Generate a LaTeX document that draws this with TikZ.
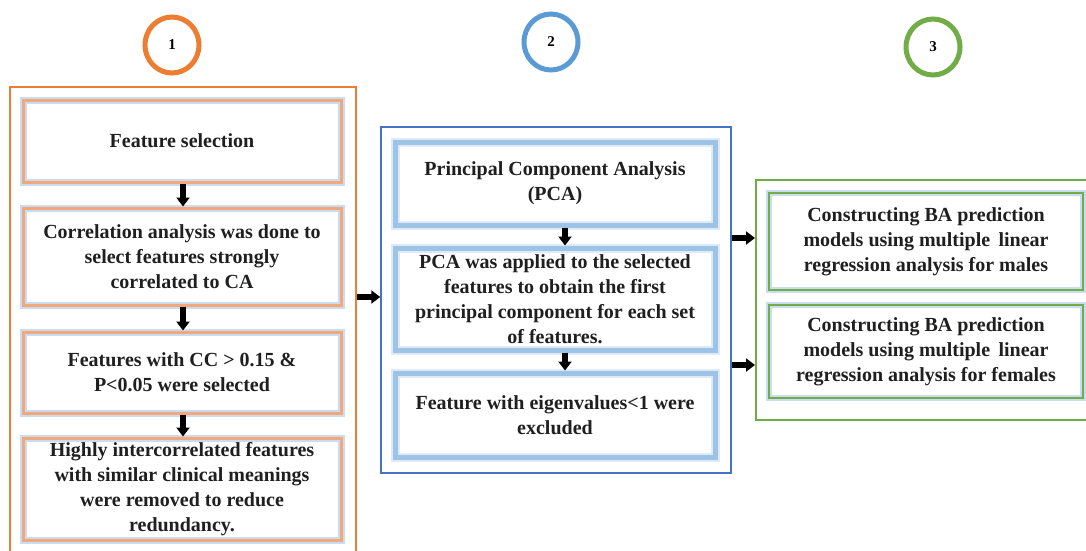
\documentclass[tikz,border=0pt]{standalone}
\usepackage{fontspec}
\setmainfont{Liberation Serif}
\usetikzlibrary{arrows.meta}
\definecolor{orng}{HTML}{ED7D31}
\definecolor{lorng}{HTML}{F4A778}
\definecolor{bl}{HTML}{5B9BD5}
\definecolor{dbl}{HTML}{4472C4}
\definecolor{lbl}{HTML}{9DC3E6}
\definecolor{glow}{HTML}{C9DCF2}
\definecolor{grn}{HTML}{70AD47}
\begin{document}
\begin{tikzpicture}[x=1pt,y=-1pt,
  txt/.style={font=\fontsize{20}{25}\selectfont\bfseries, align=center, inner sep=0pt, text=black!88},
  numtxt/.style={font=\fontsize{15}{18}\selectfont\bfseries},
  obox/.style={txt, draw=lorng, line width=3pt, preaction={draw=glow, line width=7pt}, minimum width=318pt},
  bbox/.style={txt, draw=lbl, line width=5pt, preaction={draw=glow!60, line width=9pt}, minimum width=320pt},
  gbox/.style={txt, draw=grn, line width=2pt, preaction={draw=glow, line width=6pt}, minimum width=314pt},
  outer/.style={draw, inner sep=0pt},
  arr/.style={line width=5.5pt, -{Triangle[width=13pt,length=9pt]}, black}
]
\useasboundingbox (0,0) rectangle (1086,550);
\clip (0,0) rectangle (1086,550);

% numbered circles
\draw[orng, line width=5pt] (172,45) ellipse [x radius=27, y radius=28];
\node[numtxt] (c1) at (172,45) {1};
\draw[bl, line width=5pt] (551,42) ellipse [x radius=27, y radius=28];
\node[numtxt] (c2) at (551,42) {2};
\draw[grn, line width=5pt] (933,47) ellipse [x radius=27, y radius=28];
\node[numtxt] (c3) at (933,47) {3};

% outer boxes
\node[outer, draw=orng, line width=2pt, minimum width=346.5pt, minimum height=473pt] (o1) at (182.75,323.5) {};
\node[outer, draw=dbl, line width=1.5pt, minimum width=350pt, minimum height=346pt] (o2) at (556,300) {};
\node[outer, draw=grn, line width=2pt, minimum width=344pt, minimum height=240pt] (o3) at (928,300) {};

% column 1
\node[obox, minimum height=82pt] (a1) at (182,141) {Feature selection};
\node[obox, minimum height=97pt] (a2) at (182,256.5) {Correlation analysis was done to\\select features strongly\\correlated to CA};
\node[obox, minimum height=81pt] (a3) at (182,372.5) {Features with CC > 0.15 \&\\P<0.05 were selected};
\node[obox, minimum height=102pt] (a4) at (182,489) {Highly intercorrelated features\\with similar clinical meanings\\were removed to reduce\\redundancy.};

% column 2
\node[bbox, minimum height=83pt] (b1) at (555,183.5) {Principal Component Analysis\\(PCA)};
\node[bbox, minimum height=102pt] (b2) at (555,299) {PCA was applied to the selected\\features to obtain the first\\principal component for each set\\of features.};
\node[bbox, minimum height=84pt] (b3) at (555,415) {Feature with eigenvalues<1 were\\excluded};

% column 3
\node[gbox, minimum height=97pt] (g1) at (926,241.5) {Constructing BA prediction\\models using multiple\, linear\\regression analysis for males};
\node[gbox, minimum height=93pt] (g2) at (926,351.5) {Constructing BA prediction\\models using multiple\, linear\\regression analysis for females};

% arrows
\draw[arr] ([xshift=1pt]a1.south) -- ([xshift=1pt]a2.north);
\draw[arr] ([xshift=1pt]a2.south) -- ([xshift=1pt]a3.north);
\draw[arr] ([xshift=1pt]a3.south) -- ([xshift=1pt]a4.north);
\draw[arr] ([xshift=10pt]b1.south) -- ([xshift=10pt]b2.north);
\draw[arr] ([xshift=10pt]b2.south) -- ([xshift=10pt]b3.north);
\draw[arr] (o1.east |- 0,297) -- (o2.west |- 0,297);
\draw[arr] (o2.east |- 0,238) -- (o3.west |- 0,238);
\draw[arr] (o2.east |- 0,365) -- (o3.west |- 0,365);
\end{tikzpicture}
\end{document}
